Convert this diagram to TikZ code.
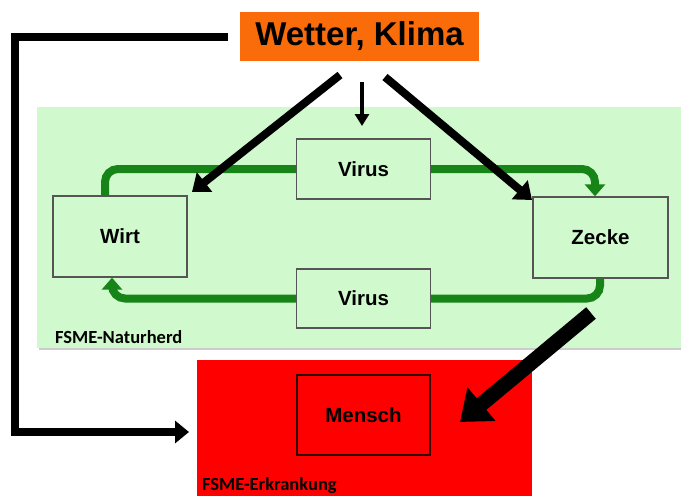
\documentclass[tikz,border=0pt]{standalone}
\usepackage{fontspec}
\setmainfont{Liberation Sans}
\newfontfamily\labfont{Carlito}
\usetikzlibrary{arrows.meta}
\definecolor{orng}{RGB}{250,108,10}
\definecolor{lgreen}{RGB}{208,250,205}
\definecolor{dgreen}{RGB}{22,132,22}
\definecolor{bord}{RGB}{85,85,85}
\definecolor{rred}{RGB}{255,0,0}
\begin{document}
\begin{tikzpicture}[x=1pt,y=-1pt,
  region/.style={inner sep=0pt,anchor=north west},
  box/.style={draw=bord,line width=1.3pt,fill=lgreen,inner sep=0pt,
    minimum width=134pt,font=\bfseries\fontsize{20.5}{24}\selectfont},
  lab/.style={inner sep=0pt,anchor=base west,font=\labfont\bfseries\fontsize{18.5}{20}\selectfont},
  gline/.style={draw=dgreen,line width=8pt,rounded corners=13pt},
  garrow/.style={gline,-{Triangle[width=20pt,length=12pt]}},
  barrow/.style={draw=black,line width=8pt,-{Triangle[width=24pt,length=16pt]}},
  thinarrow/.style={draw=black,line width=4pt,-{Triangle[width=14pt,length=12pt]}},
  bigarrow/.style={draw=black,line width=15pt,-{Triangle[width=42pt,length=28pt]}},
  leftline/.style={draw=black,line width=8pt,line join=miter,-{Triangle[width=22pt,length=14pt]}}]
\useasboundingbox (0,0) rectangle (681,496);
\fill[white] (0,0) rectangle (681,496);
% regions
\fill[black!20] (39,348) rectangle (681,350);
\node[region,fill=lgreen,minimum width=644pt,minimum height=241pt] (herd) at (37,107) {};
\node[region,fill=rred,minimum width=335pt,minimum height=140pt] (erk) at (197,360) {};
\node[lab] (herdlab) at (55,343) {FSME-Naturherd};
\node[lab] (erklab) at (202,490) {FSME-Erkrankung};
% nodes
\node[fill=orng,inner sep=0pt,minimum width=239pt,minimum height=49pt,
  font=\bfseries\fontsize{33}{36}\selectfont] (wk) at (359.5,36.5) {Wetter, Klima};
\node[box,minimum height=60pt] (virus1) at (363.5,169) {Virus};
\node[box,minimum height=59pt] (virus2) at (363.5,298.5) {Virus};
\node[box,minimum height=81pt] (wirt) at (120,236.5) {Wirt};
\node[box,minimum width=135pt,minimum height=81pt] (zecke) at (600.5,237.5) {Zecke};
\node[box,fill=rred,draw=black!80!red,minimum width=133pt,minimum height=80pt] (mensch) at (363.5,415) {Mensch};
% green cycle
\draw[gline] (105,0 |- wirt.north) |- (virus1.west);
\draw[garrow] (virus1.east) -| (595,0 |- zecke.north);
\draw[gline] (600,0 |- zecke.south) |- (virus2.east);
\draw[garrow] (virus2.west) -| (112,0 |- wirt.south);
% black arrows
\coordinate (s1) at (340,75);
\coordinate (e1) at (192,192);
\coordinate (s2) at (362,82);
\coordinate (e2) at (362,126);
\coordinate (s3) at (385,77);
\coordinate (e3) at (532,200);
\coordinate (s4) at (591,313);
\coordinate (e4) at (460,422);
\draw[barrow] (s1) -- (e1);
\draw[thinarrow] (s2) -- (e2);
\draw[barrow] (s3) -- (e3);
\draw[bigarrow] (s4) -- (e4);
% left connector
\coordinate (lstart) at ([xshift=-12pt]wk.west);
\coordinate (lcorner) at (15,432);
\coordinate (lend) at ([xshift=-8pt]erk.west |- lcorner);
\draw[leftline] (lstart) -| (lcorner) -- (lend);
\end{tikzpicture}
\end{document}
